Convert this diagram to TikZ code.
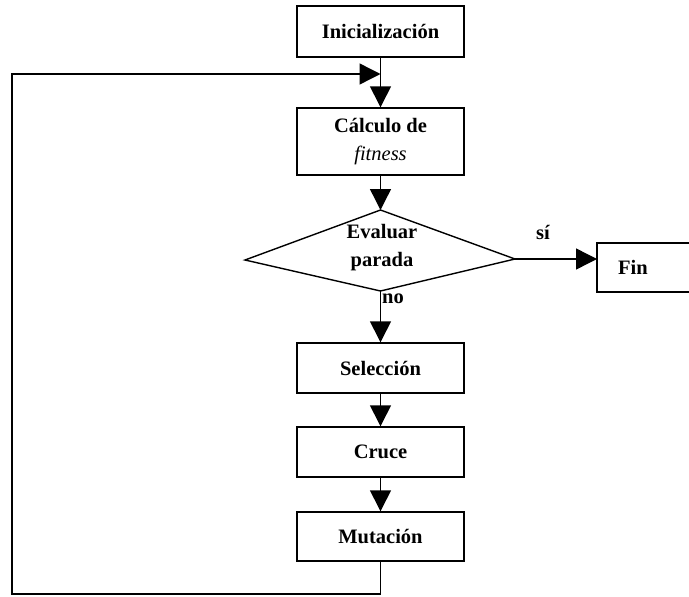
\documentclass[tikz,border=0pt]{standalone}
\usepackage{fontspec}
\setmainfont{Liberation Serif}
\usetikzlibrary{arrows.meta,calc,positioning}

\begin{document}
\begin{tikzpicture}[x=1pt,y=-1pt,line width=1.4pt,
  every node/.style={font=\fontsize{20.5}{28}\selectfont\bfseries},
  paso/.style={draw,minimum width=167pt,inner sep=0pt,align=center},
  flecha/.style={-{Triangle[length=21pt,width=21pt]}}]
  \useasboundingbox (0,0) rectangle (689,597);
  % cajas del algoritmo
  \node[paso,minimum height=51pt] (ini) at (380.5,31.5){Inicialización};
  \node[paso,minimum height=67pt] (calc) at (380.5,141.5){Cálculo de\\\textit{\mdseries fitness}};
  \node[paso,minimum height=50pt] (sel) at (380.5,368){Selección};
  \node[paso,minimum height=50pt] (cruce) at (380.5,452){Cruce};
  \node[paso,minimum height=49pt] (mut) at (380.5,536.5){Mutación};
  % rombo de decision
  \coordinate (dsup) at (380.5,210);
  \coordinate (dder) at (515,259);
  \coordinate (dinf) at (380.5,291);
  \coordinate (dizq) at (245,260);
  \draw (dsup)--(dder)--(dinf)--(dizq)--cycle;
  \node[align=center] (eval) at (382,248){Evaluar\\parada};
  % caja final
  \node (fin) at (633,267.5){Fin};
  \draw (689,243) -| (597,292) -- (689,292);
  \coordinate (finizq) at (597,259);
  \node (si) at (543,232){sí};
  \node (no) at (393,299){no};
  % flechas
  \coordinate (bucle) at (380.5,74);
  \coordinate (esq) at (380.5,594);
  \draw[flecha] (ini) -- (calc);
  \draw[flecha] (calc) -- (dsup);
  \draw[flecha] (dder) -- (finizq);
  \draw[flecha] (dinf) -- (sel);
  \draw[flecha] (sel) -- (cruce);
  \draw[flecha] (cruce) -- (mut);
  \draw[flecha] (mut) -- (esq) -| (12,74) -- (bucle);
\end{tikzpicture}
\end{document}
